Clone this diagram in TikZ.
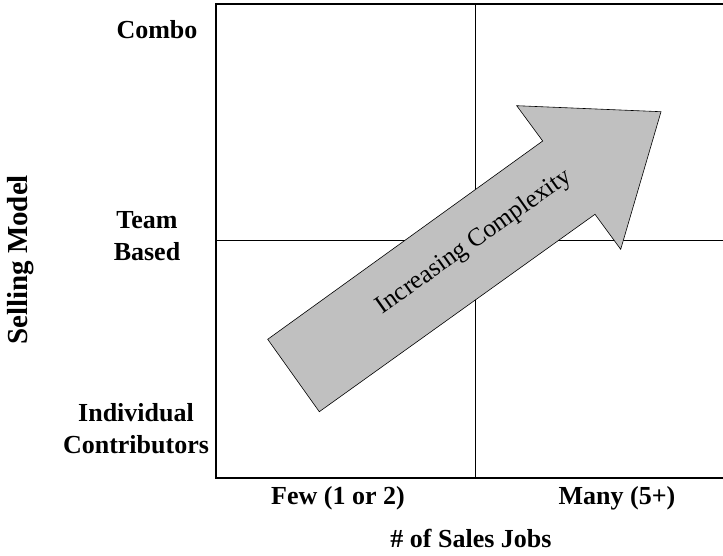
\documentclass[tikz,border=0pt]{standalone}
\usepackage{fontspec}
\setmainfont{Liberation Serif}
\usetikzlibrary{positioning}
\definecolor{arrowgray}{RGB}{192,192,192}

\begin{document}
\begin{tikzpicture}[x=1pt, y=-1pt, every node/.style={font=\fontsize{26}{32}\selectfont\bfseries, align=center}]
	\useasboundingbox (0,0) rectangle (723,556);

	% quadrant frame
	\coordinate(TL) at (216,4);
	\coordinate(TR) at (723,4);
	\coordinate(BL) at (216,478);
	\coordinate(BR) at (723,478);
	\coordinate(ML) at (216,241);
	\coordinate(MR) at (723,241);
	\coordinate(MT) at (475,4);
	\coordinate(MB) at (475,478);

	\draw[line width=1.2pt] (TR) -- (TL) -- (BL) -- (BR);
	\draw[line width=1pt] (ML) -- (MR);
	\draw[line width=1pt] (MT) -- (MB);

	% big arrow
	\draw[fill=arrowgray, line width=0.6pt] (267.7,339.3) -- (542.7,141) -- (516.7,105.7) -- (661,111.7)
		-- (620.7,249.3) -- (595,214.3) -- (319.3,411.7) -- cycle;
	\node[rotate=35.3, font=\fontsize{25.5}{30}\selectfont](AR) at (474,242){Increasing Complexity};

	% selling model axis
	\node(Combo) at (157,30){Combo};
	\node(Team) at (147,236){Team\\Based};
	\node(Indiv) at (136,429){Individual\\Contributors};
	\node[rotate=90, font=\fontsize{29}{32}\selectfont\bfseries](Model) at (21,260){Selling Model};

	% sales jobs axis
	\node(Few) at (338,498){Few (1 or 2)};
	\node(Many) at (617,498){Many (5+)};
	\node[below of=Few, node distance=40pt, xshift=133pt](Jobs){\# of Sales Jobs};
\end{tikzpicture}
\end{document}
